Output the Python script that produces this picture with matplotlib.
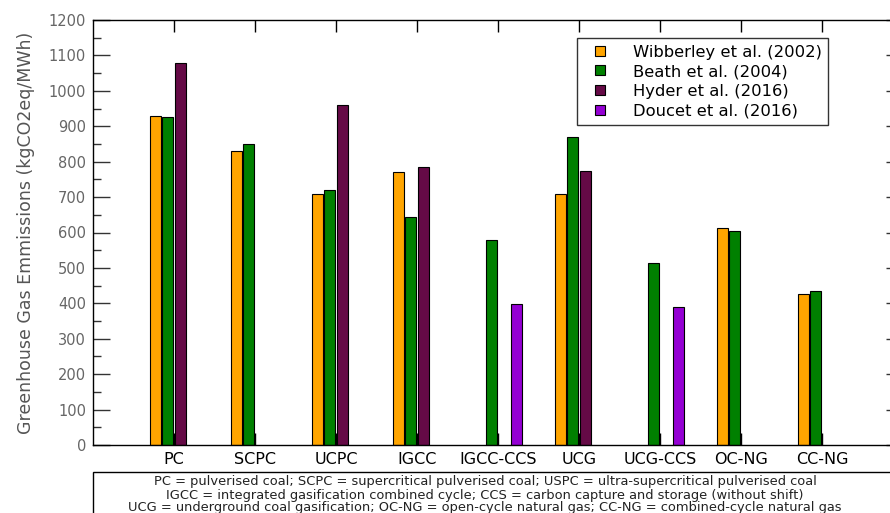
import numpy as np
import matplotlib.pyplot as plt
from matplotlib.lines import Line2D
from matplotlib.patches import Rectangle

# data (kgCO2eq/MWh), None = no value reported
categories = ["PC", "SCPC", "UCPC", "IGCC", "IGCC-CCS", "UCG", "UCG-CCS", "OC-NG", "CC-NG"]
wibberley = [930, 830, 710, 770, None, 708, None, 614, 425]
beath = [925, 850, 720, 643, 579, 870, 515, 605, 434]
hyder = [1080, None, 960, 784, None, 774, None, None, None]
doucet = [None, None, None, None, 399, None, 389, None, None]

series = [
    ("Wibberley et al. (2002)", wibberley, "#FFA500"),
    ("Beath et al. (2004)", beath, "#008000"),
    ("Hyder et al. (2016)", hyder, "#650A46"),
    ("Doucet et al. (2016)", doucet, "#9400D3"),
]

footnote = ("PC = pulverised coal; SCPC = supercritical pulverised coal; USPC = ultra-supercritical pulverised coal\n"
            "IGCC = integrated gasification combined cycle; CCS = carbon capture and storage (without shift)\n"
            "UCG = underground coal gasification; OC-NG = open-cycle natural gas; CC-NG = combined-cycle natural gas")

plt.rcParams['font.family'] = ['DejaVu Sans']

fig = plt.figure(figsize=(8.9, 5.13), dpi=100)
# axes run past the right edge, like the cropped original
ax = fig.add_axes([93 / 890, 68 / 513, 810 / 890, 425 / 513])

x = np.arange(1, len(categories) + 1)
slot = 0.15
width = 0.135
for i, (label, vals, color) in enumerate(series):
    off = (i - 1.5) * slot
    xs = [xi + off for xi, v in zip(x, vals) if v is not None]
    ys = [v for v in vals if v is not None]
    ax.bar(xs, ys, width=width, color=color, edgecolor="black", linewidth=0.8, zorder=2)

ax.set_xlim(0, 10)
ax.set_ylim(0, 1200)
ax.set_xticks(x)
ax.set_xticklabels(categories, fontsize=11.5)
ax.set_yticks(np.arange(0, 1201, 100))
ax.set_yticks(np.arange(0, 1201, 50), minor=True)
ax.tick_params(axis='y', which='major', direction='in', length=12, width=1,
               labelsize=10.5, labelcolor='#666666', color='#333333', pad=5, right=True)
ax.tick_params(axis='y', which='minor', direction='in', length=6, width=1,
               color='#333333', right=True)
ax.tick_params(axis='x', which='major', direction='in', length=8.5, width=1,
               top=True, pad=5)
ax.set_axisbelow(True)
for s in ax.spines.values():
    s.set_linewidth(1)

ax.set_ylabel("Greenhouse Gas Emmissions (kgCO2eq/MWh)", fontsize=12.5,
              color='#555555', labelpad=10)

handles = [Line2D([], [], linestyle='none', marker='s', markersize=7,
                  markerfacecolor=c, markeredgecolor='black', markeredgewidth=0.8)
           for _, _, c in series]
leg = ax.legend(handles, [s[0] for s in series], loc='upper left',
                bbox_to_anchor=((577 - 93) / 810, 1 - 18 / 425),
                fontsize=11.8, frameon=True, fancybox=False, borderpad=0.4,
                handlelength=2.0, handletextpad=1.0, labelspacing=0.28,
                borderaxespad=0)
leg.get_frame().set_edgecolor('black')
leg.get_frame().set_linewidth(1)

# footnote box below the axes
fig.patches.append(Rectangle((93 / 890, -0.05), 0.95, (513 - 472) / 513 + 0.05,
                             transform=fig.transFigure, fill=False,
                             edgecolor='black', linewidth=1))
fig.text(485 / 890, (513 - 495) / 513, footnote, ha='center', va='center',
         fontsize=9.4, color='#222222', linespacing=1.0)

fig.savefig("out.png", dpi=100)
